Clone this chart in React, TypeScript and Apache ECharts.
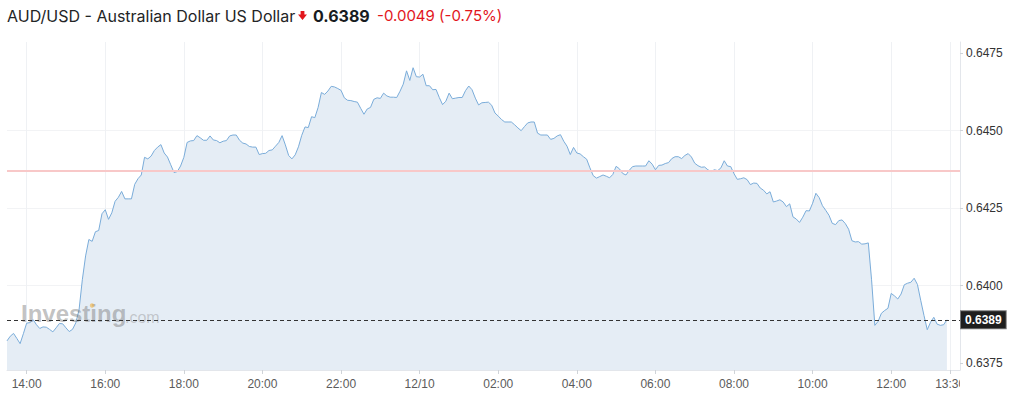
import React, { useEffect, useRef } from "react";
import * as echarts from "echarts";

// ---- data (5-minute closes, starting 13:30) ----
const START_HOUR = 13;
const START_MINUTE = 30;
const STEP_MINUTES = 5;
const AXIS_SLOTS = 292; // axis extends a little beyond the last quote
const MIDNIGHT_LABEL = "12/10";

const prices: number[] = [
  0.63822, 0.63837, 0.63846, 0.6383, 0.63813, 0.63845, 0.63879, 0.63881, 0.6389, 0.63874,
  0.63862, 0.63867, 0.63866, 0.63859, 0.63851, 0.63864, 0.63878, 0.63877, 0.63864, 0.63852,
  0.63859, 0.6388, 0.63922, 0.64019, 0.64096, 0.64149, 0.64143, 0.64174, 0.64178, 0.64232,
  0.64245, 0.64214, 0.64235, 0.64272, 0.64285, 0.64304, 0.6428, 0.6428, 0.6428, 0.64327,
  0.64345, 0.64357, 0.64414, 0.64409, 0.64418, 0.64436, 0.64447, 0.64455, 0.64428, 0.64415,
  0.6439, 0.64365, 0.64368, 0.64386, 0.64414, 0.64462, 0.64467, 0.64468, 0.64484, 0.64477,
  0.64469, 0.64469, 0.64483, 0.6447, 0.64468, 0.64461, 0.64466, 0.64468, 0.64483, 0.64486,
  0.64486, 0.64469, 0.6446, 0.64457, 0.64449, 0.64447, 0.64447, 0.64423, 0.64426, 0.64427,
  0.64436, 0.64438, 0.6445, 0.64462, 0.64484, 0.64454, 0.6442, 0.64409, 0.64422, 0.64448,
  0.64485, 0.64512, 0.6451, 0.64545, 0.64542, 0.64575, 0.64623, 0.64617, 0.64628, 0.64643,
  0.64641, 0.64636, 0.6463, 0.64606, 0.64598, 0.64597, 0.64594, 0.64592, 0.64572, 0.64553,
  0.6457, 0.64575, 0.64601, 0.64606, 0.64604, 0.64621, 0.64612, 0.64608, 0.64608, 0.64607,
  0.64627, 0.6465, 0.64693, 0.64662, 0.64703, 0.64674, 0.64673, 0.64682, 0.64645, 0.64645,
  0.64632, 0.64633, 0.64607, 0.64584, 0.64595, 0.64621, 0.64603, 0.64605, 0.64607, 0.64607,
  0.64629, 0.64644, 0.64632, 0.64605, 0.64583, 0.6459, 0.64591, 0.64592, 0.64582, 0.64557,
  0.64547, 0.64536, 0.64528, 0.64528, 0.64528, 0.64519, 0.64509, 0.645, 0.64513, 0.64525,
  0.64528, 0.64528, 0.64492, 0.64486, 0.64486, 0.64486, 0.64472, 0.64475, 0.64483, 0.64487,
  0.64466, 0.6445, 0.64423, 0.64446, 0.64428, 0.64425, 0.64416, 0.64408, 0.6438, 0.64355,
  0.64347, 0.64352, 0.64357, 0.64353, 0.64348, 0.64359, 0.64385, 0.64377, 0.64362, 0.64357,
  0.64372, 0.64384, 0.64386, 0.64386, 0.64386, 0.64386, 0.64403, 0.64392, 0.64374, 0.64388,
  0.64389, 0.64394, 0.64397, 0.6441, 0.64416, 0.64416, 0.6441, 0.6442, 0.64426, 0.64415,
  0.64395, 0.64387, 0.64382, 0.64383, 0.64374, 0.64368, 0.64374, 0.64371, 0.6438, 0.64403,
  0.64386, 0.64384, 0.64361, 0.64343, 0.64345, 0.64348, 0.64342, 0.64326, 0.64331, 0.6433,
  0.64315, 0.64308, 0.64296, 0.64303, 0.6427, 0.64273, 0.64277, 0.6427, 0.64255, 0.64264,
  0.64222, 0.64215, 0.64204, 0.64221, 0.64242, 0.64241, 0.64266, 0.64298, 0.64284, 0.64258,
  0.64243, 0.64227, 0.64201, 0.64197, 0.6421, 0.64212, 0.642, 0.64182, 0.64145, 0.64141,
  0.64142, 0.64134, 0.64135, 0.64138, 0.64019, 0.63872, 0.63885, 0.63911, 0.6392, 0.63927,
  0.63975, 0.63967, 0.63957, 0.63973, 0.64003, 0.64008, 0.64011, 0.64024, 0.64004, 0.63953,
  0.63904, 0.63858, 0.63882, 0.63898, 0.63876, 0.63872, 0.63874, 0.6389,
];

const yTicks: number[] = [0.6375, 0.64, 0.6425, 0.645, 0.6475];
const Y_MIN = 0.63728;
const Y_MAX = 0.64786;
const PREV_CLOSE = 0.6437;
const LAST_PRICE = 0.6389;

const TITLE_NAME = "AUD/USD - Australian Dollar US Dollar";
const TITLE_PRICE = "0.6389";
const TITLE_CHANGE = "-0.0049 (-0.75%)";

// category slots (time of day)
const slots: string[] = Array.from({ length: AXIS_SLOTS }, (_, i) => {
  const total = START_HOUR * 60 + START_MINUTE + i * STEP_MINUTES;
  const h = Math.floor(total / 60) % 24;
  const m = total % 60;
  if (h === 0 && m === 0) return MIDNIGHT_LABEL;
  return `${String(h).padStart(2, "0")}:${String(m).padStart(2, "0")}`;
});

const isMarked = (index: number): boolean => {
  const v = slots[index];
  if (!v) return false;
  if (index === 288) return true; // 13:30 next day
  if (v === MIDNIGHT_LABEL) return true;
  return v.endsWith(":00") && Number(v.slice(0, 2)) % 2 === 0;
};

const AXIS_FONT = 'Arial, "Liberation Sans", sans-serif';
const TITLE_FONT = 'Inter, "Noto Sans", sans-serif';

export default function App() {
  const ref = useRef<HTMLDivElement>(null);

  useEffect(() => {
    document.body.style.margin = "0";
    if (!ref.current) return;
    const chart = echarts.init(ref.current, null, { renderer: "svg" });
    chart.setOption({
      animation: false,
      grid: { left: 7, right: 59, top: 42, bottom: 33, containLabel: false },
      xAxis: {
        type: "category",
        data: slots,
        boundaryGap: false,
        axisLine: { show: true, lineStyle: { color: "#e3e6eb" } },
        axisTick: { show: true, interval: (i: number) => isMarked(i), length: 4, lineStyle: { color: "#cfd3d8" } },
        axisLabel: {
          interval: (i: number) => isMarked(i),
          color: "#5b5b5b",
          fontSize: 12,
          fontFamily: AXIS_FONT,
          margin: 8,
        },
        splitLine: { show: true, interval: (i: number) => isMarked(i), lineStyle: { color: "#eff1f4" } },
      },
      yAxis: {
        type: "value",
        position: "right",
        min: Y_MIN,
        max: Y_MAX,
        minInterval: 0.0025,
        maxInterval: 0.0025,
        axisLine: { show: true, lineStyle: { color: "#e3e6eb" } },
        axisTick: { show: true, length: 3, customValues: yTicks, lineStyle: { color: "#cfd3d8" } },
        axisLabel: {
          customValues: yTicks,
          formatter: (v: number) => v.toFixed(4),
          color: "#333",
          fontSize: 12,
          fontFamily: AXIS_FONT,
          margin: 6,
        },
        splitLine: { show: true, showMinLine: false, showMaxLine: false, lineStyle: { color: "#f2f3f5" } },
      },
      series: [
        {
          type: "line",
          data: prices,
          symbol: "none",
          silent: true,
          lineStyle: { color: "#7aacd9", width: 1 },
          areaStyle: { color: "#e5edf5", opacity: 1 },
          emphasis: { disabled: true },
          markLine: {
            silent: true,
            precision: 5,
            symbol: ["none", "none"],
            data: [
              {
                yAxis: PREV_CLOSE,
                lineStyle: { color: "#f8c8c8", width: 2, type: "solid" },
                label: { show: false },
              },
              {
                yAxis: LAST_PRICE,
                lineStyle: { color: "#333", width: 1, type: [4, 3] },
                label: {
                  show: true,
                  position: "end",
                  distance: 1,
                  formatter: LAST_PRICE.toFixed(4),
                  color: "#fff",
                  backgroundColor: "#1e1e1e",
                  borderColor: "#777",
                  borderWidth: 1,
                  padding: [3, 4, 2, 4],
                  fontWeight: "bold",
                  fontSize: 12,
                  fontFamily: AXIS_FONT,
                },
              },
            ],
          },
        },
      ],
      graphic: [
        {
          type: "text",
          left: 21,
          top: 301,
          z: 5,
          style: { text: "Investing", font: 'bold 24px Arial, "Liberation Sans", sans-serif', fill: "rgba(120,120,120,0.45)" },
        },
        {
          type: "circle",
          z: 6,
          shape: { cx: 92, cy: 305.5, r: 2.2 },
          style: { fill: "rgba(240,180,70,0.6)" },
        },
        {
          type: "text",
          left: 125,
          top: 309,
          z: 5,
          style: { text: ".com", font: '16px Arial, "Liberation Sans", sans-serif', fill: "rgba(150,150,150,0.45)" },
        },
        {
          type: "text",
          left: 7,
          top: 8,
          style: { text: TITLE_NAME, font: `16px ${TITLE_FONT}`, fill: "#232526" },
        },
        {
          type: "polygon",
          shape: {
            points: [
              [300.6, 11],
              [304.4, 11],
              [304.4, 14.6],
              [307, 14.6],
              [302.5, 20],
              [298, 14.6],
              [300.6, 14.6],
            ],
          },
          style: { fill: "#e2161c" },
        },
        {
          type: "text",
          left: 313,
          top: 8,
          style: { text: TITLE_PRICE, font: `bold 16px ${TITLE_FONT}`, fill: "#181c21" },
        },
        {
          type: "text",
          left: 377,
          top: 8,
          style: { text: TITLE_CHANGE, font: `15px ${TITLE_FONT}`, fill: "#e2161c" },
        },
        {
          type: "rect",
          z: 100,
          shape: { x: 960, y: 372, width: 59, height: 31 },
          style: { fill: "#ffffff" },
        },
      ],
    });
    return () => chart.dispose();
  }, []);

  return <div ref={ref} style={{ width: 1019, height: 403 }} />;
}
